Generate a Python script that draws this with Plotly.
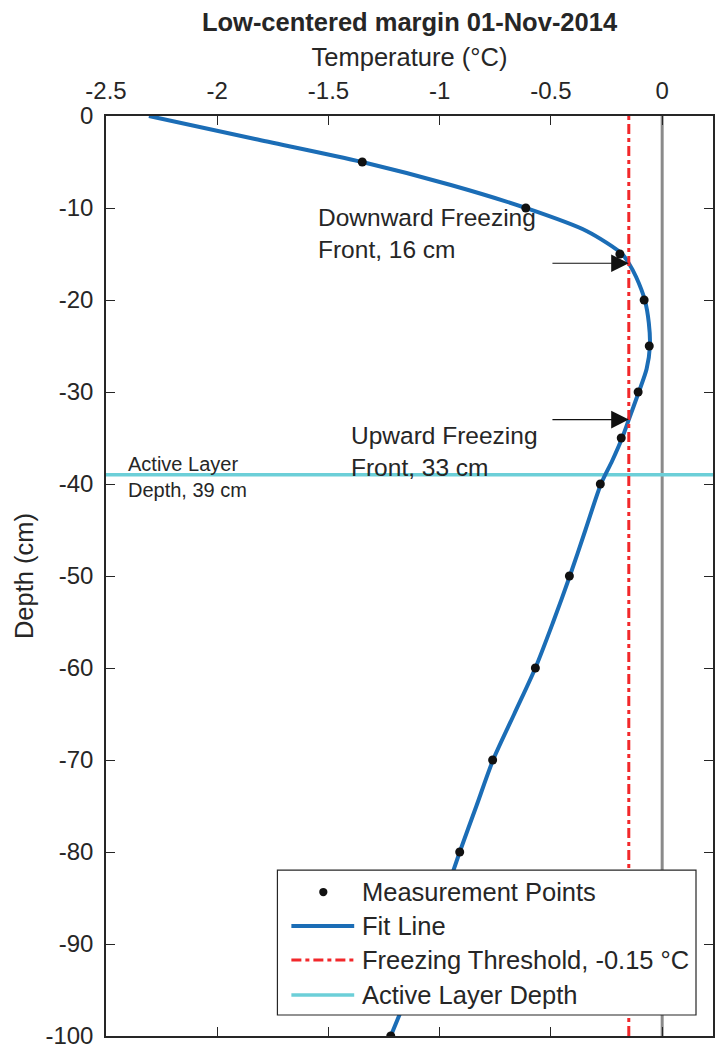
import plotly.graph_objects as go

# Measured soil temperatures (°C) at depth (cm, negative downward)
meas_depth = [-5, -10, -15, -20, -25, -30, -35, -40, -50, -60, -70, -80, -100]
meas_temp = [-1.348, -0.613, -0.19, -0.081, -0.058, -0.108, -0.184, -0.278,
             -0.417, -0.57, -0.762, -0.91, -1.22]

# Fitted temperature profile
fit_depth = [0, -2.5, -5, -7.5, -10, -12.5, -15, -16, -17.5, -20, -22.5, -25,
             -27.5, -30, -33, -35, -37.5, -40, -45, -50, -55, -60, -65, -70,
             -75, -80, -85, -90, -95, -100]
fit_temp = [-2.307, -1.83, -1.348, -0.95, -0.613, -0.34, -0.18, -0.15, -0.117,
            -0.078, -0.06, -0.055, -0.07, -0.105, -0.15, -0.18, -0.225, -0.275,
            -0.345, -0.415, -0.49, -0.57, -0.665, -0.76, -0.835, -0.91, -0.98,
            -1.05, -1.135, -1.22]

freeze_threshold = -0.15
active_layer_depth = -39
down_front_depth = -16
up_front_depth = -33

x_ticks = [-2.5, -2, -1.5, -1, -0.5, 0]
y_ticks = [0, -10, -20, -30, -40, -50, -60, -70, -80, -90, -100]
x_range = [-2.5, 0.2285]
y_range = [-100, 0]

FONT = "Liberation Sans, Arial, Helvetica, sans-serif"
TXT = "#262626"
BLUE = "#1b6db6"
RED = "#f2282b"
CYAN = "#6ccfd8"
GRAY = "#8a8a8a"
DASHDOT = "10px,4px,4px,4px"

fig = go.Figure()

# zero-degree reference
fig.add_trace(go.Scatter(x=[0, 0], y=y_range, mode="lines",
                         line=dict(color=GRAY, width=3), showlegend=False,
                         hoverinfo="skip"))
# active layer depth
fig.add_trace(go.Scatter(x=x_range, y=[active_layer_depth] * 2, mode="lines",
                         line=dict(color=CYAN, width=3.5), showlegend=False,
                         hoverinfo="skip"))
# fit line
fig.add_trace(go.Scatter(x=fit_temp, y=fit_depth, mode="lines",
                         line=dict(color=BLUE, width=4, shape="spline",
                                   smoothing=0.8),
                         showlegend=False))
# freezing threshold
fig.add_trace(go.Scatter(x=[freeze_threshold] * 2, y=y_range, mode="lines",
                         line=dict(color=RED, width=3, dash=DASHDOT),
                         showlegend=False, hoverinfo="skip"))
# measurement points
fig.add_trace(go.Scatter(x=meas_temp, y=meas_depth, mode="markers",
                         marker=dict(color="#111111", size=9),
                         showlegend=False))

# freezing front arrows
for d in (down_front_depth, up_front_depth):
    fig.add_annotation(x=freeze_threshold, y=d, ax=-0.5, ay=d,
                       xref="x", yref="y", axref="x", ayref="y",
                       showarrow=True, arrowhead=2, arrowsize=3.2,
                       arrowwidth=1.1, arrowcolor="#111111", text="")

fig.add_annotation(x=-1.556, y=-12.8, xref="x", yref="y", xanchor="left",
                   yanchor="middle", align="left", showarrow=False,
                   text="Downward Freezing<br>Front, 16 cm",
                   font=dict(family=FONT, size=24.5, color=TXT))
fig.add_annotation(x=-1.408, y=-36.5, xref="x", yref="y", xanchor="left",
                   yanchor="middle", align="left", showarrow=False,
                   text="Upward Freezing<br>Front, 33 cm",
                   font=dict(family=FONT, size=24.5, color=TXT))
fig.add_annotation(x=-2.41, y=-39.2, xref="x", yref="y", xanchor="left",
                   yanchor="middle", align="left", showarrow=False,
                   text="Active Layer<br>Depth, 39 cm",
                   font=dict(family=FONT, size=20, color=TXT))

# legend box (paper coordinates within the plot area)
lx0, lx1, ly0, ly1 = 0.2824, 0.972, 0.0228, 0.1804
fig.add_shape(type="rect", xref="paper", yref="paper", x0=lx0, x1=lx1,
              y0=ly0, y1=ly1, fillcolor="white",
              line=dict(color="#262626", width=1.2), layer="above")
rows = [0.1565, 0.1196, 0.0826, 0.0446]
sx0, sx1, sxm, tx = 0.3054, 0.4089, 0.358, 0.418
entries = [
    ("Measurement Points", None),
    ("Fit Line", dict(color=BLUE, width=4)),
    ("Freezing Threshold, -0.15 °C", dict(color=RED, width=3, dash=DASHDOT)),
    ("Active Layer Depth", dict(color=CYAN, width=3.5)),
]
for (label, ln), ry in zip(entries, rows):
    if ln is None:
        fig.add_shape(type="circle", xref="paper", yref="paper",
                      x0=sxm - 0.0068, x1=sxm + 0.0068,
                      y0=ry - 0.0045, y1=ry + 0.0045,
                      fillcolor="#111111", line=dict(width=0), layer="above")
    else:
        fig.add_shape(type="line", xref="paper", yref="paper", x0=sx0, x1=sx1,
                      y0=ry, y1=ry, line=ln, layer="above")
    fig.add_annotation(x=tx, y=ry, xref="paper", yref="paper", xanchor="left",
                       yanchor="middle", showarrow=False, text=label,
                       font=dict(family=FONT, size=25.5, color=TXT))

axis_common = dict(
    ticks="inside", ticklen=9, tickwidth=1, tickcolor="#262626",
    showline=True, linecolor="#262626", linewidth=1.5,
    mirror="ticks", showgrid=False, zeroline=False,
    tickfont=dict(family=FONT, size=24, color=TXT),
    ticklabelstandoff=6,
)

fig.update_layout(
    width=715, height=1051,
    margin=dict(l=106, r=0, t=116, b=15),
    paper_bgcolor="white", plot_bgcolor="white",
    font=dict(family=FONT, color=TXT),
    title=dict(text="<b>Low-centered margin 01-Nov-2014</b>",
               x=0.5, xref="paper", xanchor="center",
               y=1 - 22 / 1051, yref="container", yanchor="middle",
               font=dict(family=FONT, size=25.5, color=TXT)),
    xaxis=dict(side="top", range=x_range, tickvals=x_ticks,
               ticktext=[f"{v:g}" for v in x_ticks],
               title=dict(text="Temperature (°C)", standoff=3,
                          font=dict(family=FONT, size=25.5, color=TXT)),
               **axis_common),
    yaxis=dict(range=y_range, tickvals=y_ticks,
               ticktext=[f"{v:g}" for v in y_ticks],
               title=dict(text="Depth (cm)", standoff=4,
                          font=dict(family=FONT, size=25.5, color=TXT)),
               **axis_common),
)

fig.write_html("out.html")
